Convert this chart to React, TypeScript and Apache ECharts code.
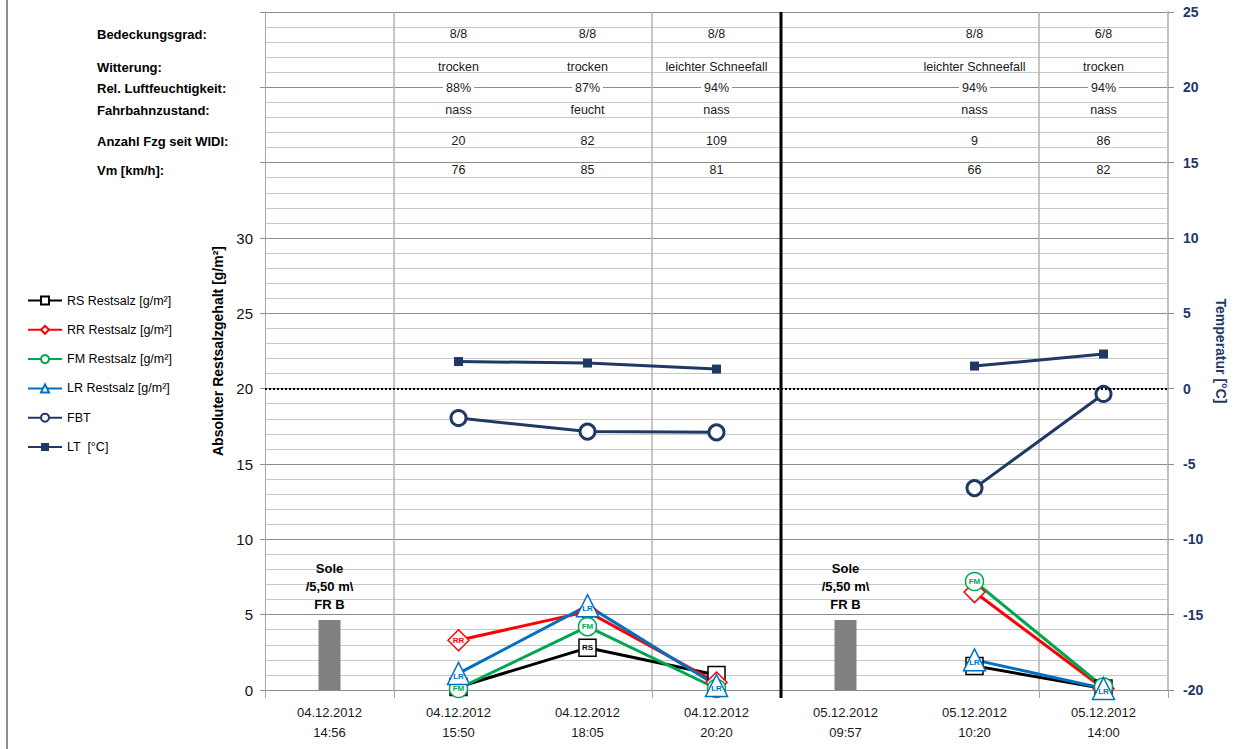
import React, { useEffect, useRef } from 'react';
import * as echarts from 'echarts';

const categories = [
  '04.12.2012\n14:56',
  '04.12.2012\n15:50',
  '04.12.2012\n18:05',
  '04.12.2012\n20:20',
  '05.12.2012\n09:57',
  '05.12.2012\n10:20',
  '05.12.2012\n14:00',
];
const soleValues = [4.65, null, null, null, 4.65, null, null];
const rsValues = [null, 0.2, 2.8, 1.0, null, 1.6, 0.1];
const rrValues = [null, 3.3, 5.2, 0.5, null, 6.5, 0.1];
const fmValues = [null, 0.1, 4.2, 0.1, null, 7.2, 0.2];
const lrValues = [null, 1.1, 5.6, 0.3, null, 2.0, 0.1];
const fbtValues = [null, -1.95, -2.85, -2.9, null, -6.6, -0.35];
const ltValues = [null, 1.8, 1.7, 1.3, null, 1.5, 2.3];

const rowLabels = [
  'Bedeckungsgrad:',
  'Witterung:',
  'Rel. Luftfeuchtigkeit:',
  'Fahrbahnzustand:',
  'Anzahl Fzg seit WIDI:',
  'Vm [km/h]:',
];
const bedeckung = ['', '8/8', '8/8', '8/8', '', '8/8', '6/8'];
const witterung = ['', 'trocken', 'trocken', 'leichter Schneefall', '', 'leichter Schneefall', 'trocken'];
const feuchte = ['', '88%', '87%', '94%', '', '94%', '94%'];
const fahrbahn = ['', 'nass', 'feucht', 'nass', '', 'nass', 'nass'];
const anzahl = ['', '20', '82', '109', '', '9', '86'];
const vm = ['', '76', '85', '81', '', '66', '82'];
const tableRows = [bedeckung, witterung, feuchte, fahrbahn, anzahl, vm];
const rowY = [34, 67, 88, 110, 141, 170];

const FONT = '"Liberation Sans", Arial, sans-serif';
const NAVY = '#1f3864';

export default function App() {
  const ref = useRef<HTMLDivElement>(null);
  useEffect(() => {
    document.body.style.margin = '0';
    const el = ref.current;
    if (!el) return;
    const chart = echarts.init(el, null, { renderer: 'svg' });

    const toItems = (vals: (number | null)[], hidden: number[]) =>
      vals.map((v, i) => (v == null ? null : hidden.includes(i) ? { value: v, label: { show: false } } : v));

    const saltSeries = (
      name: string,
      data: any[],
      color: string,
      symbol: string,
      size: number,
      tag: string,
      offsetY = 0
    ) => ({
      name,
      type: 'line',
      data,
      xAxisIndex: 0,
      yAxisIndex: 0,
      symbol,
      symbolSize: size,
      showAllSymbol: true,
      lineStyle: { color, width: 3 },
      itemStyle: { color: '#fff', borderColor: color, borderWidth: 1.5 },
      label: {
        show: true,
        position: 'inside',
        formatter: tag,
        fontSize: 8,
        fontWeight: 'bold',
        color,
        fontFamily: FONT,
        offset: [0, offsetY],
      },
      emphasis: { disabled: true },
    });

    const option: any = {
      animation: false,
      textStyle: { fontFamily: FONT },
      grid: { left: 265, right: 85, top: 12, bottom: 59 },
      legend: {
        orient: 'vertical',
        left: 22,
        top: 289,
        itemWidth: 34,
        itemHeight: 10,
        itemGap: 16.3,
        data: [
          'RS Restsalz [g/m²]',
          'RR Restsalz [g/m²]',
          'FM Restsalz [g/m²]',
          'LR Restsalz [g/m²]',
          'FBT',
          'LT  [°C]',
        ],
        textStyle: { fontSize: 12.5, color: '#000', fontFamily: FONT },
      },
      xAxis: [
        {
          type: 'category',
          data: categories,
          boundaryGap: true,
          axisLine: { show: true, lineStyle: { color: '#8c8c8c' } },
          axisTick: {
            show: true,
            length: 8,
            interval: (i: number) => [0, 1, 3, 4, 6].includes(i),
            lineStyle: { color: '#a6a6a6' },
          },
          axisLabel: { interval: 0, fontSize: 13, lineHeight: 20, color: '#1a1a1a', margin: 12, fontFamily: FONT },
          splitLine: {
            show: true,
            interval: (i: number) => [1, 3, 6].includes(i),
            lineStyle: { color: '#b3b3b3', width: 1.5 },
          },
        },
      ],
      yAxis: [
        {
          type: 'value',
          min: 0,
          max: 45,
          interval: 5,
          position: 'left',
          name: 'Absoluter Restsalzgehalt [g/m²]',
          nameLocation: 'middle',
          nameGap: 40,
          nameTextStyle: { fontWeight: 'bold', fontSize: 14, color: '#000', fontFamily: FONT },
          axisLine: { show: true, lineStyle: { color: '#a6a6a6' } },
          axisTick: { show: true, length: 5, lineStyle: { color: '#8c8c8c' } },
          axisLabel: {
            formatter: (v: number) => (v <= 30 ? String(v) : ''),
            fontSize: 15,
            color: '#111',
            margin: 12,
            fontFamily: FONT,
          },
          splitLine: { show: true, lineStyle: { color: '#8c8c8c' } },
          minorTick: { show: false, splitNumber: 5 },
          minorSplitLine: { show: true, lineStyle: { color: '#c8c8c8' } },
        },
        {
          type: 'value',
          min: -20,
          max: 25,
          interval: 5,
          position: 'right',
          name: 'Temperatur [°C]',
          nameLocation: 'middle',
          nameRotate: -90,
          nameGap: 46,
          nameTextStyle: { fontWeight: 'bold', fontSize: 14, color: NAVY, fontFamily: FONT },
          axisLine: { show: true, lineStyle: { color: '#bfbfbf', width: 2 } },
          axisTick: { show: true, length: 6, lineStyle: { color: '#8c8c8c' } },
          axisLabel: { fontSize: 14, fontWeight: 'bold', color: NAVY, margin: 15, fontFamily: FONT },
          splitLine: { show: false },
        },
      ],
      series: [
        {
          name: 'Sole',
          type: 'bar',
          data: soleValues,
          barWidth: 22,
          itemStyle: { color: '#808080' },
          label: {
            show: true,
            position: 'top',
            distance: 6,
            formatter: 'Sole\n/5,50 m\\\nFR B',
            fontWeight: 'bold',
            fontSize: 13,
            lineHeight: 18,
            color: '#000',
            fontFamily: FONT,
          },
          emphasis: { disabled: true },
        },
        saltSeries('RS Restsalz [g/m²]', toItems(rsValues, [1, 3, 5, 6]), '#000000', 'rect', 17, 'RS'),
        saltSeries('RR Restsalz [g/m²]', toItems(rrValues, [2, 3, 5, 6]), '#ff0000', 'diamond', 21, 'RR'),
        saltSeries('FM Restsalz [g/m²]', toItems(fmValues, [3, 6]), '#00a651', 'circle', 18, 'FM'),
        saltSeries('LR Restsalz [g/m²]', toItems(lrValues, []), '#0070c0', 'triangle', 22, 'LR', 3),
        {
          name: 'FBT',
          type: 'line',
          yAxisIndex: 1,
          data: fbtValues,
          symbol: 'circle',
          symbolSize: 15,
          lineStyle: { color: NAVY, width: 3 },
          itemStyle: { color: '#fff', borderColor: NAVY, borderWidth: 3 },
          emphasis: { disabled: true },
          markLine: {
            silent: true,
            symbol: 'none',
            label: { show: false },
            lineStyle: { color: '#000', type: 'dotted', width: 2 },
            data: [{ yAxis: 0 }],
          },
        },
        {
          name: 'LT  [°C]',
          type: 'line',
          yAxisIndex: 1,
          data: ltValues,
          symbol: 'rect',
          symbolSize: 9,
          lineStyle: { color: NAVY, width: 3 },
          itemStyle: { color: NAVY },
          emphasis: { disabled: true },
        },
      ],
    };
    chart.setOption(option);

    const xs = categories.map((_, i) => chart.convertToPixel({ xAxisIndex: 0 }, i) as number);
    const yTop = chart.convertToPixel({ yAxisIndex: 0 }, 45) as number;
    const yBottom = chart.convertToPixel({ yAxisIndex: 0 }, 0) as number;
    const sepX = (xs[3] + xs[4]) / 2;
    const elements: any[] = [
      {
        type: 'line',
        shape: { x1: 7, y1: 0, x2: 7, y2: 749 },
        style: { stroke: '#8c8c8c', lineWidth: 2 },
      },
      {
        type: 'line',
        z: 20,
        shape: { x1: sepX, y1: yTop, x2: sepX, y2: yBottom + 8 },
        style: { stroke: '#000', lineWidth: 3 },
      },
    ];
    rowLabels.forEach((t, r) => {
      elements.push({
        type: 'text',
        x: 97,
        y: rowY[r],
        style: {
          text: t,
          fontSize: 13,
          fontWeight: 'bold',
          fontFamily: FONT,
          fill: '#000',
          textAlign: 'left',
          textVerticalAlign: 'middle',
        },
      });
    });
    tableRows.forEach((row, r) => {
      row.forEach((t, i) => {
        if (!t) return;
        elements.push({
          type: 'text',
          x: xs[i],
          y: rowY[r],
          z: 10,
          style: {
            text: t,
            fontSize: 12.5,
            fontFamily: FONT,
            fill: '#1a1a1a',
            textAlign: 'center',
            textVerticalAlign: 'middle',
            backgroundColor: r === 2 ? '#fff' : undefined,
            padding: r === 2 ? [0, 3] : 0,
          },
        });
      });
    });
    chart.setOption({ graphic: { elements } });

    return () => chart.dispose();
  }, []);
  return <div ref={ref} style={{ width: 1253, height: 749 }} />;
}
